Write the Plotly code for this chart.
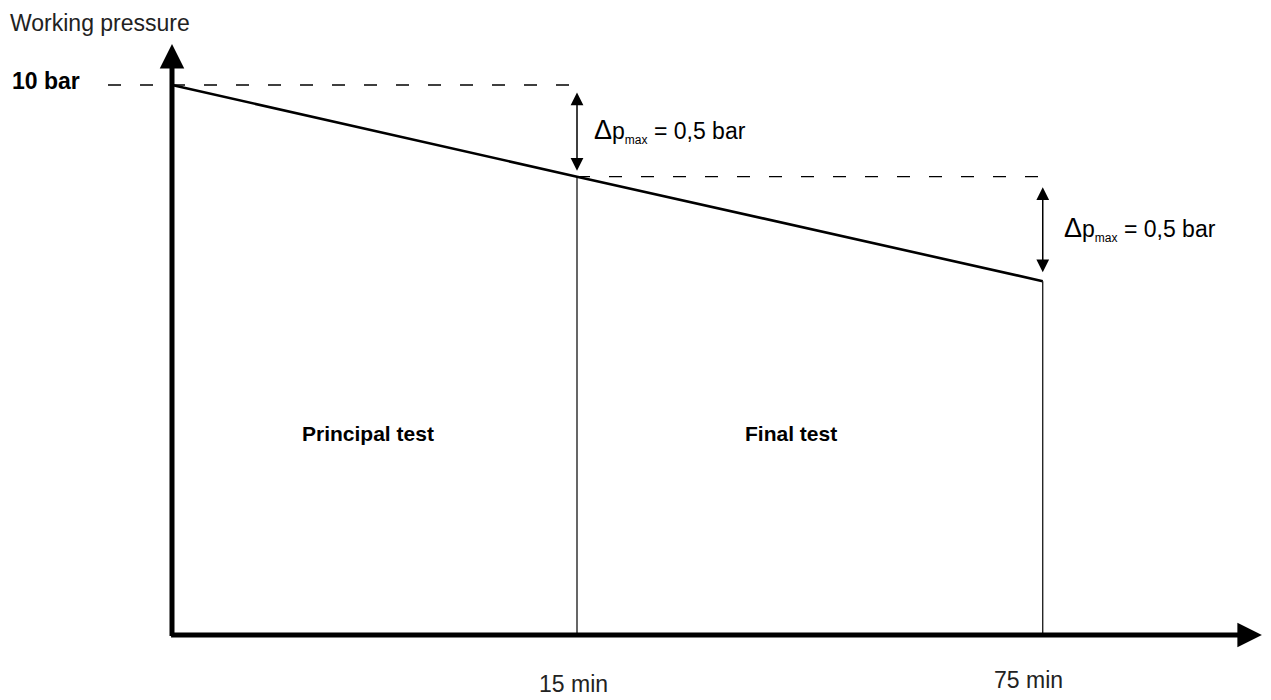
import plotly.graph_objects as go

# schematic time axis: start, end of principal test (15 min), end of final test (75 min)
time_pos = [0.0, 1.0, 2.15]
time_labels = ["15 min", "75 min"]
# working pressure in bar at those moments
pressure = [10.0, 9.5, 8.93]
phase_names = ["Principal test", "Final test"]
phase_label_x = [0.484, 1.528]
label_p = 8.1         # height of the phase labels
dp_max_text = "0,5 bar"
p_base = 7.0          # level of the time axis
p_top = 10.224        # tip of the pressure axis arrow
t_end = 2.691         # tip of the time axis arrow
dash_from = -0.158    # where the 10 bar dashed guide starts

FONT = "Liberation Sans, Arial, sans-serif"
W, H = 1263, 692      # page body adds an 8px margin around the figure

fig = go.Figure()

# pressure decline
fig.add_trace(go.Scatter(x=time_pos, y=pressure, mode="lines",
                         line=dict(color="black", width=2.6)))

# thin verticals at 15 and 75 min
for t, p in zip(time_pos[1:], pressure[1:]):
    fig.add_trace(go.Scatter(x=[t, t], y=[p_base, p], mode="lines",
                             line=dict(color="black", width=1.2)))

# dashed reference levels
for x0, x1, p in zip([dash_from, time_pos[1]], time_pos[1:], pressure[:2]):
    fig.add_trace(go.Scatter(x=[x0, x1], y=[p, p], mode="lines",
                             line=dict(color="black", width=1.3, dash="13px,19px")))

annotations = []

# axes with arrow heads
axis_arrows = [
    dict(x=0, y=p_top, ax=0, ay=p_base - 0.014),
    dict(x=t_end, y=p_base, ax=-0.006, ay=p_base),
]
for a in axis_arrows:
    annotations.append(dict(**a, xref="x", yref="y", axref="x", ayref="y", text="",
                            showarrow=True, arrowhead=2, arrowwidth=5, arrowsize=0.98,
                            arrowcolor="black"))

# delta p double arrows and labels
dp_label = ('<span style="font-size:27px">Δ</span>p'
            '<sub><span style="font-size:12px">max</span></sub> = ' + dp_max_text)
for i, (t, shift, sto) in enumerate(zip(time_pos[1:], [15, 19], [6, 9])):
    p_hi, p_lo = pressure[i], pressure[i + 1]
    annotations.append(dict(x=t, y=p_lo, ax=t, ay=p_hi, xref="x", yref="y", axref="x", ayref="y",
                            text="", showarrow=True, arrowside="end+start",
                            arrowhead=2, startarrowhead=2, arrowwidth=1.5,
                            arrowsize=1.7, startarrowsize=1.7,
                            standoff=sto, startstandoff=sto, arrowcolor="black"))
    annotations.append(dict(x=t, y=(p_hi + p_lo) / 2, xref="x", yref="y", text=dp_label,
                            showarrow=False, xanchor="left", yanchor="middle", xshift=shift,
                            font=dict(family=FONT, size=23, color="black")))

# phase names
for name, x in zip(phase_names, phase_label_x):
    annotations.append(dict(x=x, y=label_p, xref="x", yref="y",
                            text="<b>" + name + "</b>", showarrow=False,
                            font=dict(family=FONT, size=21, color="black")))

# time labels
for lab, t, xs, ys in zip(time_labels, time_pos[1:], [-4, -14], [-49, -45]):
    annotations.append(dict(x=t, y=p_base, xref="x", yref="y", text=lab, showarrow=False,
                            xshift=xs, yshift=ys,
                            font=dict(family=FONT, size=23, color="#222")))

# pressure axis labels
annotations.append(dict(x=2 / W, y=pressure[0], xref="paper", yref="y", text="<b>10 bar</b>",
                        showarrow=False, xanchor="left", yanchor="middle", yshift=4,
                        font=dict(family=FONT, size=23, color="black")))
annotations.append(dict(x=0, y=1 - 15 / H, xref="paper", yref="paper",
                        text="Working pressure", showarrow=False, xanchor="left",
                        yanchor="middle", font=dict(family=FONT, size=23, color="#222")))

fig.update_layout(
    width=W,
    height=H,
    margin=dict(l=0, r=0, t=0, b=0),
    paper_bgcolor="white",
    plot_bgcolor="white",
    showlegend=False,
    xaxis=dict(range=[-0.40494, 2.71358], visible=False, fixedrange=True),
    yaxis=dict(range=[6.6454, 10.42], visible=False, fixedrange=True),
    annotations=annotations,
)

fig.write_html("out.html")
